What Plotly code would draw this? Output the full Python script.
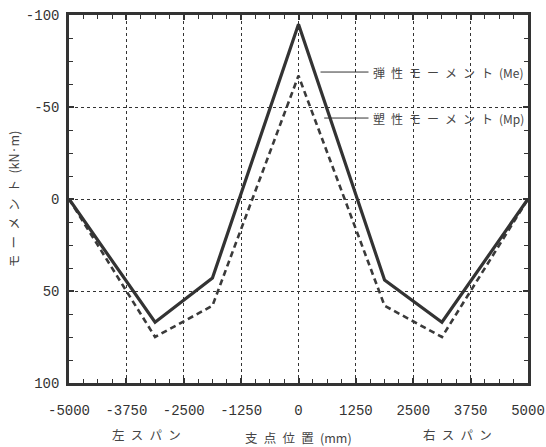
import plotly.graph_objects as go

# Data
x_pos = [-5000, -3125, -1875, 0, 1875, 3125, 5000]
me_vals = [0, 67, 43, -95, 44, 67, 0]      # 弾性モーメント (Me)
mp_vals = [0, 75, 58, -67, 58, 75, 0]      # 塑性モーメント (Mp)
x_ticks = [-5000, -3750, -2500, -1250, 0, 1250, 2500, 3750, 5000]
x_tick_text = ["-5000", "-3750", "-2500", "-1250", "0", "1250", "2500", "3750", "5000"]
y_ticks = [-100, -50, 0, 50, 100]
y_tick_text = ["-100", "-50", "0", "50", "100"]

ink = "#333333"
jp = "Noto Sans CJK JP"
num_font = "Liberation Mono"
sp = "\u2002"

def spaced(chars):
    return sp.join(chars)

fig = go.Figure()
fig.add_trace(go.Scatter(x=x_pos, y=mp_vals, mode="lines",
                         line=dict(color="#3a3a3a", width=2.6, dash="6px,4px"),
                         showlegend=False))
fig.add_trace(go.Scatter(x=x_pos, y=me_vals, mode="lines",
                         line=dict(color="#333333", width=3.2),
                         showlegend=False))

# leader lines for labels
fig.add_shape(type="line", x0=480, x1=1525, y0=-69, y1=-69,
              line=dict(color=ink, width=1))
fig.add_shape(type="line", x0=560, x1=1525, y0=-44, y1=-44,
              line=dict(color=ink, width=1))

fig.add_annotation(x=1570, y=-69, text=spaced(["弾", "性", "モ", "ー", "メ", "ン", "ト", "(Me)"]),
                   showarrow=False, xanchor="left", yanchor="middle",
                   font=dict(family=jp, size=12, color="#444"))
fig.add_annotation(x=1570, y=-44, text=spaced(["塑", "性", "モ", "ー", "メ", "ン", "ト", "(Mp)"]),
                   showarrow=False, xanchor="left", yanchor="middle",
                   font=dict(family=jp, size=12, color="#444"))

# bottom labels
for xp, yp, txt in [(0.168, -0.139, spaced(["左", "ス", "パ", "ン"])),
                    (0.499, -0.147, spaced(["支", "点", "位", "置", "(mm)"])),
                    (0.847, -0.139, spaced(["右", "ス", "パ", "ン"]))]:
    fig.add_annotation(x=xp, y=yp, xref="paper", yref="paper", text=txt,
                       showarrow=False, xanchor="center", yanchor="middle",
                       font=dict(family=jp, size=12.5, color="#444"))

axis_common = dict(
    showline=True, linewidth=2.5, linecolor=ink, mirror="ticks",
    showgrid=True, gridcolor=ink, gridwidth=1.3, griddash="dot",
    zeroline=False, ticks="inside", ticklen=5, tickcolor=ink, tickwidth=1.5,
    tickfont=dict(family=num_font, size=14, color="#333"),
    automargin=False,
)

fig.update_xaxes(range=[-5000, 5000], tickvals=x_ticks, ticktext=x_tick_text,
                 ticklabelstandoff=12,
                 minor=dict(ticks="inside", ticklen=4, dtick=312.5, tick0=-5000,
                            tickcolor=ink, tickwidth=1.3, showgrid=False),
                 **axis_common)
fig.update_yaxes(range=[100, -100], tickvals=y_ticks, ticktext=y_tick_text,
                 ticklabelstandoff=4,
                 title=dict(text=spaced(["モ", "ー", "メ", "ン", "ト", "(kN·m)"]), standoff=4,
                            font=dict(family=jp, size=12.5, color="#444")),
                 minor=dict(ticks="inside", ticklen=4, dtick=12.5, tick0=-100,
                            tickcolor=ink, tickwidth=1.3, showgrid=False),
                 **axis_common)

fig.update_layout(width=546, height=447,
                  margin=dict(l=69, r=18, t=15, b=64),
                  plot_bgcolor="white", paper_bgcolor="white")

fig.write_html("out.html", config={"displayModeBar": False},
               post_script="document.body.style.margin='0';document.body.style.overflow='hidden';")
